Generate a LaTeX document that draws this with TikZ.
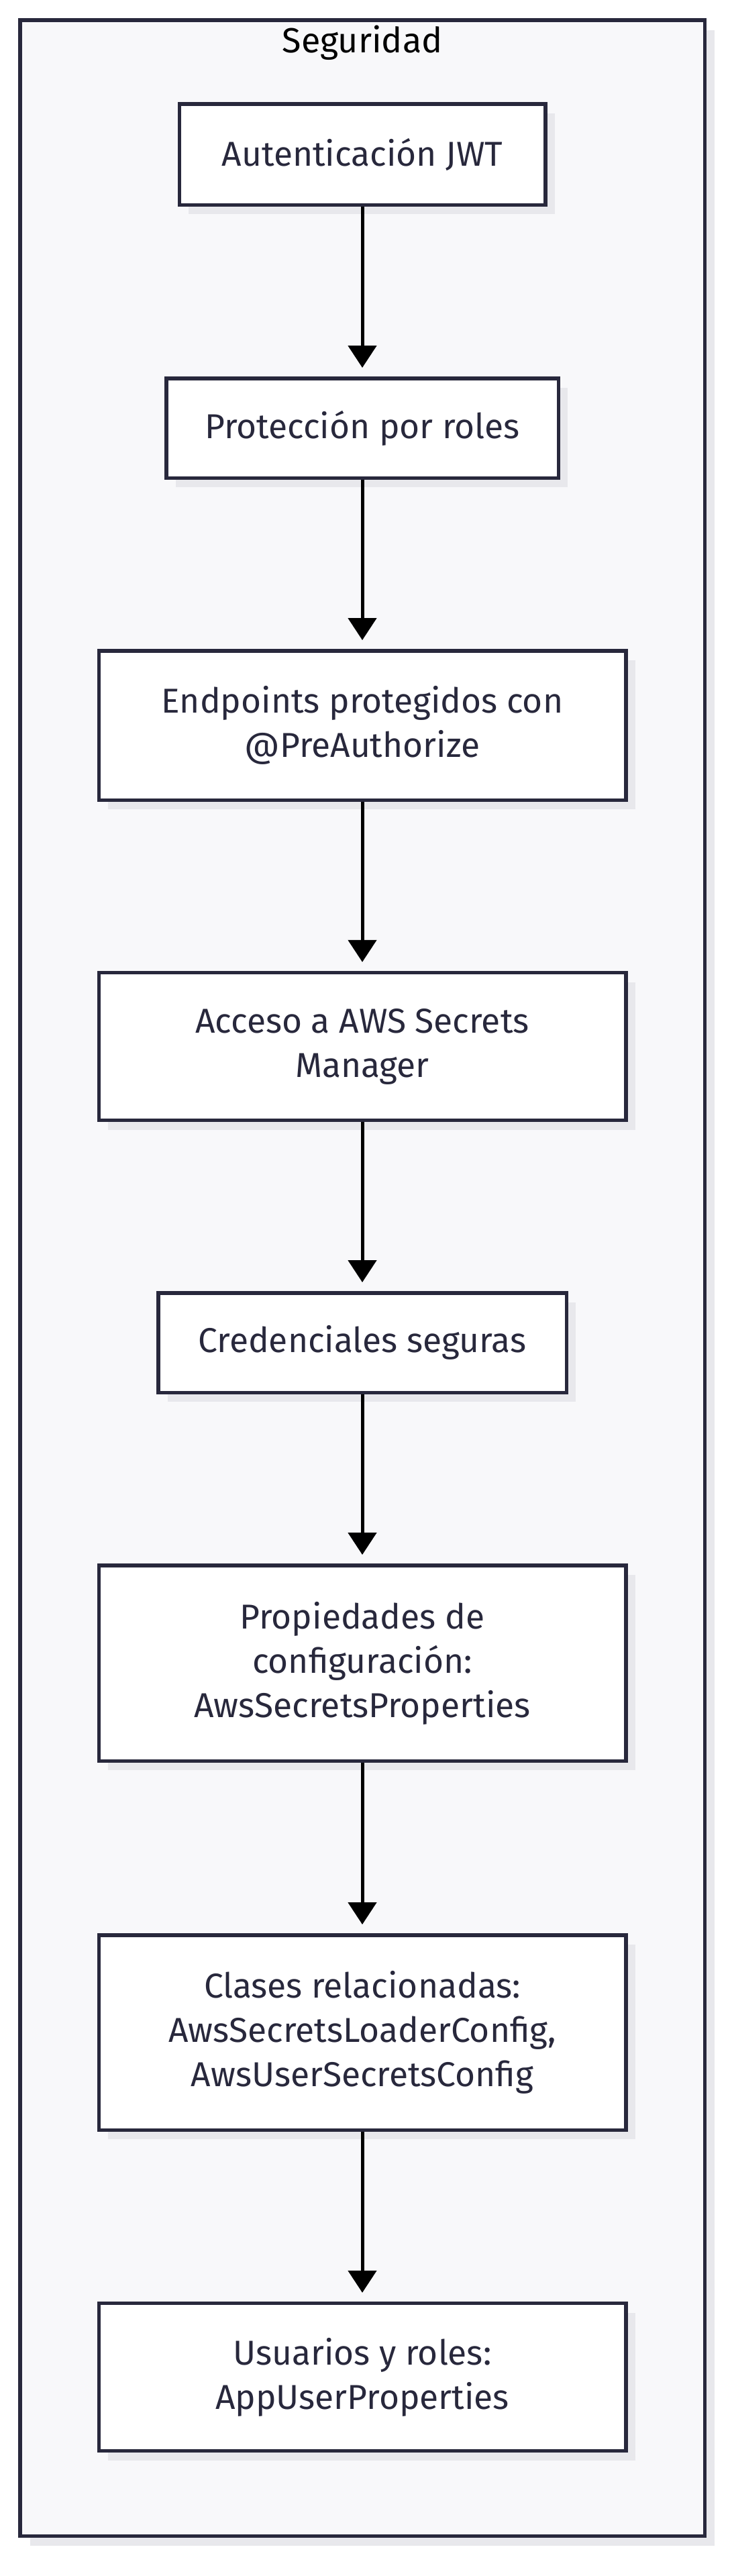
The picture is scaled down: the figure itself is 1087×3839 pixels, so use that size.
\documentclass[tikz,border=0pt]{standalone}
\usepackage{fontspec}
\setmainfont{Fira Sans}
\usetikzlibrary{arrows.meta,shadows}
\definecolor{grupofill}{HTML}{F8F8FA}
\definecolor{tinta}{HTML}{28283C}
\definecolor{sombra}{HTML}{E8E8EC}
\tikzset{
  grupo/.style={draw=tinta, fill=grupofill, line width=5.5pt, inner sep=0pt,
    general shadow={fill=sombra, shadow xshift=15pt, shadow yshift=-15pt}},
  grupotitulo/.style={text=black, font=\fontsize{52}{66}\selectfont, inner sep=0pt},
  paso/.style={draw=tinta, fill=white, line width=5.5pt, text=tinta, align=center,
    font=\fontsize{51.5}{66}\selectfont, inner sep=0pt,
    general shadow={fill=sombra, shadow xshift=14pt, shadow yshift=-14pt}},
  flecha/.style={-{Triangle[length=33pt,width=42pt]}, line width=5pt, shorten >=13pt},
}
\begin{document}
\begin{tikzpicture}[x=1pt,y=-1pt]
    \useasboundingbox (0,0) rectangle (1087,3839);
    % contenedor
    \node[grupo, minimum width=1020.5pt, minimum height=3749.5pt] (seguridad) at (540,1904.5) {};
    \node[grupotitulo, anchor=base] (titulo) at (540,78) {Seguridad};
    % pasos
    \node[paso, minimum width=545.5pt, minimum height=150.5pt] (auth) at (540,230) {Autenticación JWT};
    \node[paso, minimum width=584.5pt, minimum height=148.5pt] (roles) at (540,638) {Protección por roles};
    \node[paso, minimum width=785.5pt, minimum height=222.5pt] (endpoints) at (540,1081) {Endpoints protegidos con\\@PreAuthorize};
    \node[paso, minimum width=785.5pt, minimum height=220pt] (secrets) at (540,1559.5) {Acceso a AWS Secrets\\Manager};
    \node[paso, minimum width=608.5pt, minimum height=148.5pt] (credenciales) at (540,2001) {Credenciales seguras};
    \node[paso, minimum width=785.5pt, minimum height=291.5pt] (propiedades) at (540,2478.5) {Propiedades de\\configuración:\\AwsSecretsProperties};
    \node[paso, minimum width=785.5pt, minimum height=290.5pt] (clases) at (540,3029) {Clases relacionadas:\\AwsSecretsLoaderConfig,\\AwsUserSecretsConfig};
    \node[paso, minimum width=785.5pt, minimum height=220pt] (usuarios) at (540,3542.5) {Usuarios y roles:\\AppUserProperties};
    % flechas
    \foreach \a/\b in {auth/roles, roles/endpoints, endpoints/secrets, secrets/credenciales,
      credenciales/propiedades, propiedades/clases, clases/usuarios}
      \draw[flecha] (\a.south) -- (\b.north);
\end{tikzpicture}
\end{document}
